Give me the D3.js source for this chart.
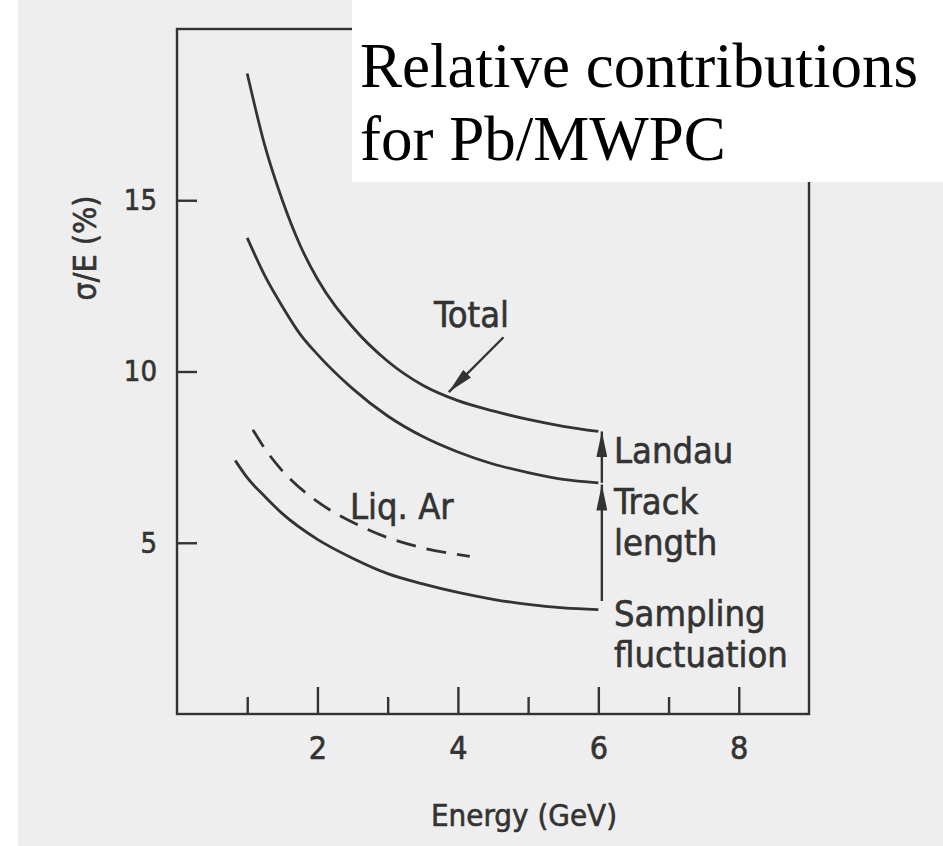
<!DOCTYPE html>
<html>
<head>
<meta charset="utf-8">
<script src="https://cdn.jsdelivr.net/npm/d3@7"></script>
<style>
  html, body { margin: 0; padding: 0; background: #ffffff; }
  svg { display: block; }
  .lab { font-family: 'DejaVu Sans Condensed', 'DejaVu Sans', sans-serif; font-stretch: condensed; fill: #333; stroke: #333; stroke-width: 0.6px; }
</style>
</head>
<body>
<svg id="chart" width="943" height="846"></svg>
<script>
// ---- data ----
const totalE    = [1.0, 1.25, 1.5, 1.75, 2.0, 2.5, 3.0, 3.5, 4.0, 4.5, 5.0, 5.5, 6.0];
const totalV    = [18.7, 16.6, 15.0, 13.7, 12.7, 11.3, 10.3, 9.6, 9.15, 8.85, 8.6, 8.4, 8.25];
const trackE    = [1.0, 1.25, 1.5, 1.75, 2.0, 2.5, 3.0, 3.5, 4.0, 4.5, 5.0, 5.5, 6.0];
const trackV    = [13.9, 12.8, 11.9, 11.1, 10.5, 9.5, 8.7, 8.1, 7.65, 7.3, 7.05, 6.85, 6.75];
const liqArE    = [1.08, 1.25, 1.5, 2.0, 2.5, 3.0, 3.5, 4.17];
const liqArV    = [8.3, 7.75, 7.1, 6.2, 5.6, 5.15, 4.85, 4.6];
const samplingE = [0.83, 1.0, 1.25, 1.5, 2.0, 2.5, 3.0, 3.5, 4.0, 4.5, 5.0, 5.5, 6.0];
const samplingV = [7.4, 6.9, 6.35, 5.85, 5.1, 4.55, 4.1, 3.8, 3.55, 3.35, 3.2, 3.1, 3.05];

const xMajorTicks = [2, 4, 6, 8];
const xMinorTicks = [1, 3, 5, 7];
const yTicks = [5, 10, 15];

const xLabel = "Energy (GeV)";
const yLabel = "σ/E (%)";
const titleLines = ["Relative contributions", "for Pb/MWPC"];

// vertical arrows: energy, from value, to value
const arrowLandau = [6.05, 6.75, 8.25];
const arrowTrack  = [6.05, 3.3, 6.7];
// "Total" pointer: tail (E, v), tip (E, v)
const totalPointer = [4.65, 11.0, 3.87, 9.4];

// ---- layout ----
const svg = d3.select("#chart");
const L = 177, R = 809, T = 29, B = 714;
const x = d3.scaleLinear().domain([0, 9]).range([L, R]);
const y = d3.scaleLinear().domain([0, 20]).range([B, T]);
const ink = "#333";

// scanned page background
svg.append("rect").attr("x", 18).attr("y", 0).attr("width", 925).attr("height", 846).attr("fill", "#eeeeee");

// frame
svg.append("rect").attr("x", L).attr("y", T).attr("width", R - L).attr("height", B - T)
  .attr("fill", "none").attr("stroke", ink).attr("stroke-width", 2.4);

// axes
const xMaj = d3.axisBottom(x).tickValues(xMajorTicks).tickSize(-27).tickPadding(22).tickFormat(d3.format("d"));
const xMin = d3.axisBottom(x).tickValues(xMinorTicks).tickSize(-17).tickFormat("");
const yAx = d3.axisLeft(y).tickValues(yTicks).tickSize(-20).tickPadding(20).tickFormat(d3.format("d"));

function styleAxis(size) {
  return g => {
    g.select(".domain").remove();
    g.selectAll(".tick line").attr("stroke", ink).attr("stroke-width", 2.4);
    g.selectAll(".tick text").attr("class", "lab").attr("fill", ink).style("font-size", size + "px");
  };
}
svg.append("g").attr("transform", `translate(0,${B})`).call(xMaj).call(styleAxis(32));
svg.append("g").attr("transform", `translate(0,${B})`).call(xMin).call(styleAxis(32));
svg.append("g").attr("transform", `translate(${L},0)`).call(yAx).call(styleAxis(29));

// axis titles
svg.append("text").attr("class", "lab").attr("x", 524).attr("y", 826)
  .attr("text-anchor", "middle").style("font-size", "31px").text(xLabel);
svg.append("text").attr("class", "lab")
  .attr("transform", "translate(96,248) rotate(-90)")
  .attr("text-anchor", "middle").style("font-size", "32px").text(yLabel);

// curves
const line = d3.line().x(d => x(d[0])).y(d => y(d[1])).curve(d3.curveMonotoneX);
function draw(E, V, dash) {
  const p = svg.append("path").datum(E.map((e, i) => [e, V[i]]))
    .attr("d", line).attr("fill", "none").attr("stroke", ink).attr("stroke-width", 2.8);
  if (dash) p.attr("stroke-dasharray", dash);
}
draw(totalE, totalV);
draw(trackE, trackV);
draw(liqArE, liqArV, "20,11");
draw(samplingE, samplingV);

// arrow heads
const defs = svg.append("defs");
defs.append("marker").attr("id", "head").attr("viewBox", "0 0 26 11")
  .attr("refX", 26).attr("refY", 5.5).attr("markerWidth", 26).attr("markerHeight", 11)
  .attr("markerUnits", "userSpaceOnUse").attr("orient", "auto")
  .append("path").attr("d", "M0,0 L26,5.5 L0,11 Z").attr("fill", ink);

function arrow(e1, v1, e2, v2) {
  svg.append("line").attr("x1", x(e1)).attr("y1", y(v1)).attr("x2", x(e2)).attr("y2", y(v2))
    .attr("stroke", ink).attr("stroke-width", 2.4).attr("marker-end", "url(#head)");
}
arrow(arrowLandau[0], arrowLandau[1], arrowLandau[0], arrowLandau[2]);
arrow(arrowTrack[0], arrowTrack[1], arrowTrack[0], arrowTrack[2]);
arrow(totalPointer[0], totalPointer[1], totalPointer[2], totalPointer[3]);

// annotations
function label(t, px, py) {
  svg.append("text").attr("class", "lab").attr("x", px).attr("y", py).style("font-size", "36px").text(t);
}
label("Total", 434, 327);
label("Liq. Ar", 350, 519);
label("Landau", 614, 463);
label("Track", 614, 514);
label("length", 614, 555);
label("Sampling", 614, 626);
label("fluctuation", 614, 667);

// title box
svg.append("rect").attr("x", 352).attr("y", 0).attr("width", 591).attr("height", 182).attr("fill", "#ffffff");
svg.selectAll(".title").data(titleLines).join("text").attr("class", "title")
  .attr("x", 360).attr("y", (d, i) => 87 + i * 73)
  .attr("font-family", "'Liberation Serif', 'Times New Roman', serif")
  .attr("font-size", 63).attr("fill", "#000").text(d => d);
</script>
</body>
</html>
